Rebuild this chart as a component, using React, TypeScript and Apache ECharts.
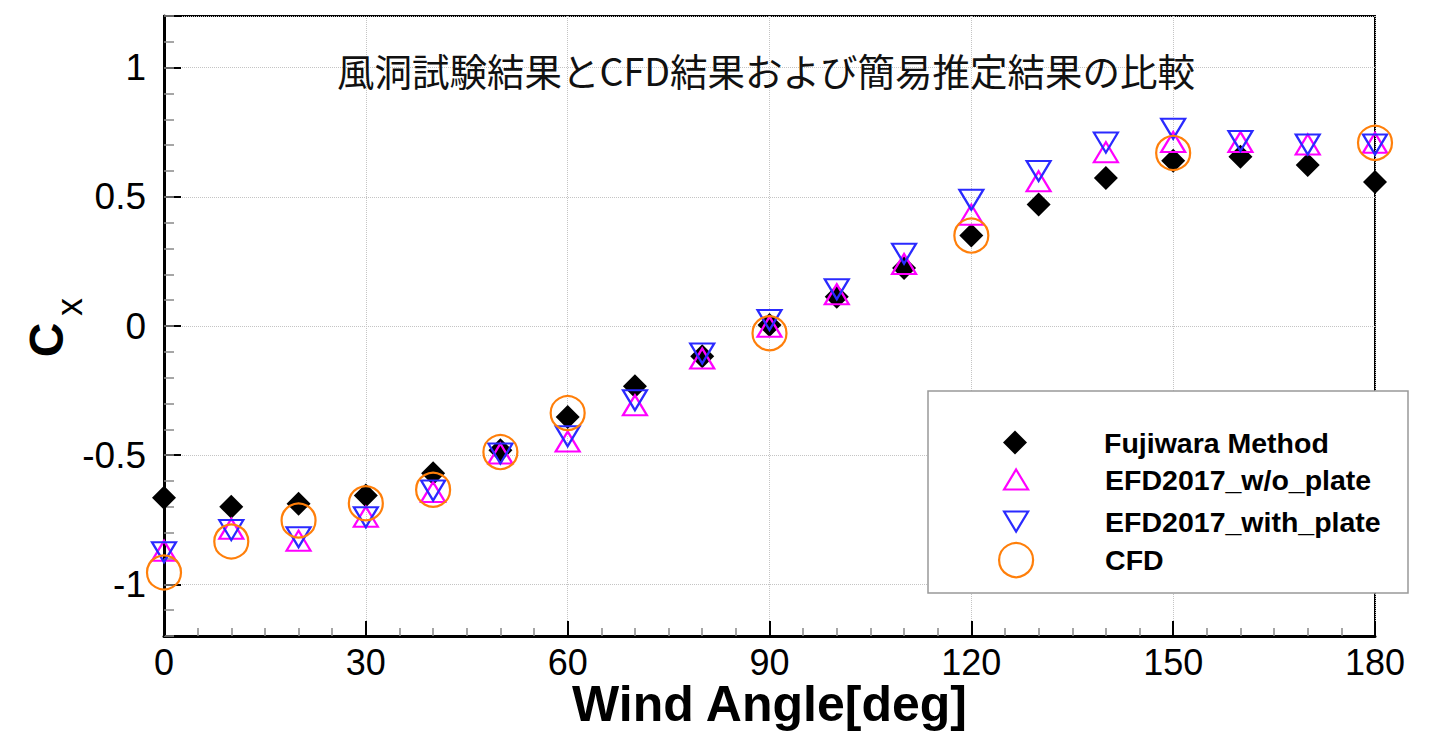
import React, { useEffect, useRef } from 'react';
import * as echarts from 'echarts';

const angles = [0, 10, 20, 30, 40, 50, 60, 70, 80, 90, 100, 110, 120, 130, 140, 150, 160, 170, 180];
const fujiwara = [-0.665, -0.70, -0.688, -0.656, -0.57, -0.481, -0.352, -0.233, -0.117, 0.004, 0.113, 0.225, 0.35, 0.47, 0.573, 0.64, 0.655, 0.623, 0.557];
const efdWithout = [-0.87, -0.785, -0.831, -0.738, -0.643, -0.494, -0.447, -0.307, -0.126, -0.003, 0.123, 0.24, 0.431, 0.56, 0.673, 0.712, 0.712, 0.703, 0.709];
const efdWith = [-0.876, -0.79, -0.818, -0.74, -0.637, -0.494, -0.427, -0.287, -0.106, 0.023, 0.142, 0.28, 0.489, 0.6, 0.71, 0.764, 0.716, 0.703, 0.703];
const cfdAngles = [0, 10, 20, 30, 40, 50, 60, 90, 120, 150, 180];
const cfd = [-0.954, -0.834, -0.753, -0.686, -0.634, -0.488, -0.337, -0.028, 0.35, 0.67, 0.709];

const seriesNames = ['Fujiwara Method', 'EFD2017_w/o_plate', 'EFD2017_with_plate', 'CFD'];
const titleText = '風洞試験結果とCFD結果および簡易推定結果の比較';
const xName = 'Wind Angle[deg]';

const DIAMOND = 'path://M12,0L24,12L12,24L0,12Z';
const TRI_UP = 'path://M12,0L24,20L0,20Z';
const TRI_DOWN = 'path://M0,0L24,0L12,20Z';

const FONT = '"Liberation Sans", Arial, sans-serif';

export default function App() {
  const ref = useRef<HTMLDivElement>(null);
  useEffect(() => {
    const chart = echarts.init(ref.current!, null, { renderer: 'svg' });
    const styles = [
      { color: '#000000', borderWidth: 0, opacity: 1 },
      { color: 'rgba(0,0,0,0)', borderColor: '#ff00ff', borderWidth: 2.2, opacity: 1 },
      { color: 'rgba(0,0,0,0)', borderColor: '#2a2aff', borderWidth: 2.2, opacity: 1 },
      { color: 'rgba(0,0,0,0)', borderColor: '#ff7f0a', borderWidth: 2.2, opacity: 1 },
    ];
    const symbols = [DIAMOND, TRI_UP, TRI_DOWN, 'circle'];
    const sizes: any[] = [[24, 24], [24, 20], [24, 20], 34];
    const datas = [
      angles.map((a, i) => [a, fujiwara[i]]),
      angles.map((a, i) => [a, efdWithout[i]]),
      angles.map((a, i) => [a, efdWith[i]]),
      cfdAngles.map((a, i) => [a, cfd[i]]),
    ];
    const legendCenters = [442, 479, 521, 559];
    const legendItemH = [24, 20, 20, 34];
    const legendIconW = [24, 24, 24, 34];
    const gridLine = { show: true, lineStyle: { color: '#c4c4c4', type: 'dotted', width: 1 } };
    const option: any = {
      animation: false,
      backgroundColor: '#ffffff',
      grid: {
        left: 164, right: 60, top: 16, bottom: 97, show: true, borderColor: '#000', borderWidth: 2,
        backgroundColor: 'rgba(0,0,0,0)', containLabel: false, outerBoundsMode: 'none',
      },
      xAxis: {
        type: 'value', min: 0, max: 180, interval: 30,
        axisLine: { show: true, onZero: false, lineStyle: { color: '#000', width: 3 } },
        axisTick: { show: true, inside: true, length: 15, lineStyle: { color: '#000', width: 2 } },
        minorTick: { show: true, splitNumber: 6, length: 8, lineStyle: { color: '#888', width: 1.5 } },
        splitLine: gridLine,
        axisLabel: { fontSize: 36, color: '#000', fontFamily: FONT, margin: 8 },
        name: xName, nameLocation: 'middle', nameGap: 43, nameMoveOverlap: false,
        nameTextStyle: { fontSize: 50, fontWeight: 'bold', color: '#000', fontFamily: FONT },
      },
      yAxis: [
        {
          type: 'value', min: -1.2, max: 1.2, splitNumber: 5, position: 'left',
          axisLine: { show: true, onZero: false, lineStyle: { color: '#000', width: 3 } },
          axisTick: { show: true, inside: true, length: 17, lineStyle: { color: '#000', width: 2 } },
          splitLine: gridLine,
          axisLabel: {
            fontSize: 37, color: '#000', fontFamily: FONT, margin: 18,
            formatter: (v: number) => (Math.abs(v * 2 - Math.round(v * 2)) < 1e-6 ? String(Math.round(v * 2) / 2) : ''),
          },
        },
        {
          type: 'value', min: -12, max: 12, interval: 1, position: 'left',
          axisLine: { show: false, onZero: false },
          axisTick: { show: true, inside: true, length: 10, lineStyle: { color: '#888', width: 1.5 } },
          axisLabel: { show: false },
          splitLine: { show: false },
        },
      ],
      legend: seriesNames.map((n, i) => ({
        data: [n],
        orient: 'vertical',
        left: 1015 - legendIconW[i] / 2,
        top: legendCenters[i] - Math.max(legendItemH[i], 28) / 2,
        padding: 0,
        itemWidth: 168,
        itemHeight: legendItemH[i],
        selectedMode: false,
        z: 200,
        itemStyle: styles[i],
        textStyle: { fontSize: 28.5, fontWeight: 'bold', fontFamily: FONT, color: '#000' },
      })),
      graphic: [
        { type: 'rect', z: 150, shape: { x: 928, y: 391, width: 480, height: 202 }, style: { fill: '#fff', stroke: '#999', lineWidth: 1.5 } },
        { type: 'text', z: 100, x: 766, y: 69, style: { text: titleText, fontSize: 37.5, fontFamily: '"Noto Sans CJK JP", sans-serif', fill: '#111', align: 'center', verticalAlign: 'middle' } },
        { type: 'text', z: 100, x: 46, y: 340, rotation: Math.PI / 2, style: { text: 'C', fontSize: 48, fontWeight: 'bold', fontFamily: FONT, fill: '#000', align: 'center', verticalAlign: 'middle' } },
        { type: 'text', z: 100, x: 69, y: 307, rotation: Math.PI / 2, style: { text: 'x', fontSize: 36, fontFamily: FONT, fill: '#000', align: 'center', verticalAlign: 'middle' } },
      ],
      series: seriesNames.map((n, i) => ({
        name: n,
        type: 'scatter',
        data: datas[i],
        symbol: symbols[i],
        symbolSize: sizes[i],
        itemStyle: styles[i],
        z: 3 + i,
        emphasis: { disabled: true },
      })),
    };
    chart.setOption(option);
    return () => chart.dispose();
  }, []);
  return <div ref={ref} style={{ position: 'fixed', left: 0, top: 0, width: 1435, height: 733, background: '#fff' }} />;
}
